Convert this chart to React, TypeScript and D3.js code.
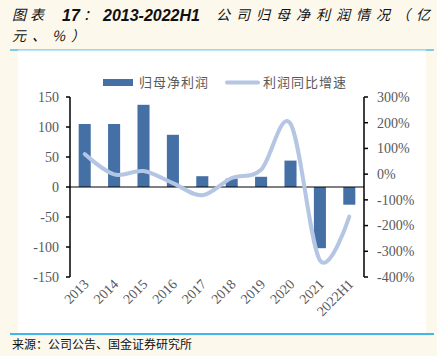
import React from "react";
import * as d3 from "d3";

const categories = ["2013", "2014", "2015", "2016", "2017", "2018", "2019", "2020", "2021", "2022H1"];
const profit = [105, 105, 137, 87, 18, 14, 17, 44, -102, -29.5];
const growth = [78, -1, 12, -35, -82, -15, 17, 196, -335, -165];
const leftTicks = [150, 100, 50, 0, -50, -100, -150];
const rightTicks = [300, 200, 100, 0, -100, -200, -300, -400];

const W = 437;
const H = 356;
const BAR = "#4470A6";
const LINE = "#B4C6E4";
const GREY = "#595959";
const CJK = "'Noto Sans CJK SC', sans-serif";
const SANS = "'Liberation Sans', Arial, sans-serif";
const SERIF = "'Liberation Serif', 'DejaVu Serif', serif";

export default function App() {
  const x = d3.scaleBand<string>().domain(categories).range([70, 364]).paddingInner(0.59).paddingOuter(0.295);
  const yL = d3.scaleLinear().domain([-150, 150]).range([277, 97]);
  const yR = d3.scaleLinear().domain([-400, 300]).range([277, 97]);
  const cx = (c: string) => (x(c) as number) + x.bandwidth() / 2;
  const line = d3
    .line<number>()
    .x((_, i) => cx(categories[i]))
    .y((d) => yR(d))
    .curve(d3.curveCardinal.tension(0));

  return (
    <svg width={W} height={H} style={{ position: "absolute", left: 0, top: 0 }}>
      <rect x={0} y={0} width={W} height={H} fill="#FDF8EC" />
      {/* title */}
      <text x={12} y={20} fontSize={14} fontStyle="italic" fill="#111" fontFamily={CJK} letterSpacing={4}>图表</text>
      <text x={62} y={20.5} fontSize={16} fontStyle="italic" fontWeight="bold" fill="#111" fontFamily={SANS}>17</text>
      <text x={83} y={20} fontSize={14} fontStyle="italic" fill="#111" fontFamily={CJK}>：</text>
      <text x={103} y={20.5} fontSize={16} fontStyle="italic" fontWeight="bold" fill="#111" fontFamily={SANS}>2013-2022H1</text>
      <text x={216} y={20} fontSize={14} fontStyle="italic" fill="#111" fontFamily={CJK} letterSpacing={6}>公司归母净利润情况（亿</text>
      <text x={12} y={40.5} fontSize={14} fontStyle="italic" fill="#111" fontFamily={CJK} letterSpacing={6}>元、%）</text>
      {/* frame lines */}
      <line x1={10} x2={434} y1={50} y2={50} stroke="#00A0E9" strokeWidth={1} />
      <rect x={18} y={50.5} width={408} height={283} fill="#FFFFFF" />
      <line x1={18} x2={426} y1={50} y2={50} stroke="#BFE3F4" strokeWidth={1} />
      <line x1={10} x2={434} y1={334} y2={334} stroke="#00A0E9" strokeWidth={1.5} />
      <text x={12} y={349} fontSize={12} fill="#111" fontFamily={CJK}>来源：公司公告、国金证券研究所</text>

      {/* legend */}
      <rect x={103} y={79} width={30} height={7} fill={BAR} />
      <text x={139} y={87} fontSize={13} fill={GREY} fontFamily={CJK} letterSpacing={1}>归母净利润</text>
      <line x1={227} x2={258} y1={82.5} y2={82.5} stroke={LINE} strokeWidth={4} strokeLinecap="round" />
      <text x={263} y={87} fontSize={13} fill={GREY} fontFamily={CJK} letterSpacing={1}>利润同比增速</text>

      {/* bars */}
      {profit.map((v, i) => (
        <rect
          key={categories[i]}
          x={x(categories[i])}
          width={x.bandwidth()}
          y={Math.min(yL(v), yL(0))}
          height={Math.abs(yL(v) - yL(0))}
          fill={BAR}
        />
      ))}
      {/* zero line */}
      <line x1={70} x2={364} y1={yL(0)} y2={yL(0)} stroke="#000" strokeWidth={1} />
      {/* growth line */}
      <path d={line(growth) || ""} fill="none" stroke={LINE} strokeWidth={4} strokeLinecap="round" />

      {/* left axis */}
      <line x1={70} x2={70} y1={yL(150)} y2={yL(-150)} stroke="#000" strokeWidth={1.5} />
      {leftTicks.map((t) => (
        <g key={t}>
          <line x1={66} x2={70} y1={yL(t)} y2={yL(t)} stroke="#000" strokeWidth={1.5} />
          <text x={59} y={yL(t)} dy="0.35em" textAnchor="end" fontSize={14} fill={GREY} fontFamily={SERIF}>
            {t}
          </text>
        </g>
      ))}
      {/* right axis */}
      <line x1={364} x2={364} y1={yR(300)} y2={yR(-400)} stroke="#000" strokeWidth={1.5} />
      {rightTicks.map((t) => (
        <g key={t}>
          <line x1={364} x2={368} y1={yR(t)} y2={yR(t)} stroke="#000" strokeWidth={1.5} />
          <text x={377} y={yR(t)} dy="0.35em" textAnchor="start" fontSize={14} fill={GREY} fontFamily={SERIF}>
            {t}%
          </text>
        </g>
      ))}
      {/* x labels */}
      {categories.map((c) => (
        <text
          key={c}
          transform={`translate(${cx(c) + 5},${285}) rotate(-45)`}
          textAnchor="end"
          fontSize={14}
          fill={GREY}
          fontFamily={SERIF}
        >
          {c}
        </text>
      ))}
    </svg>
  );
}
